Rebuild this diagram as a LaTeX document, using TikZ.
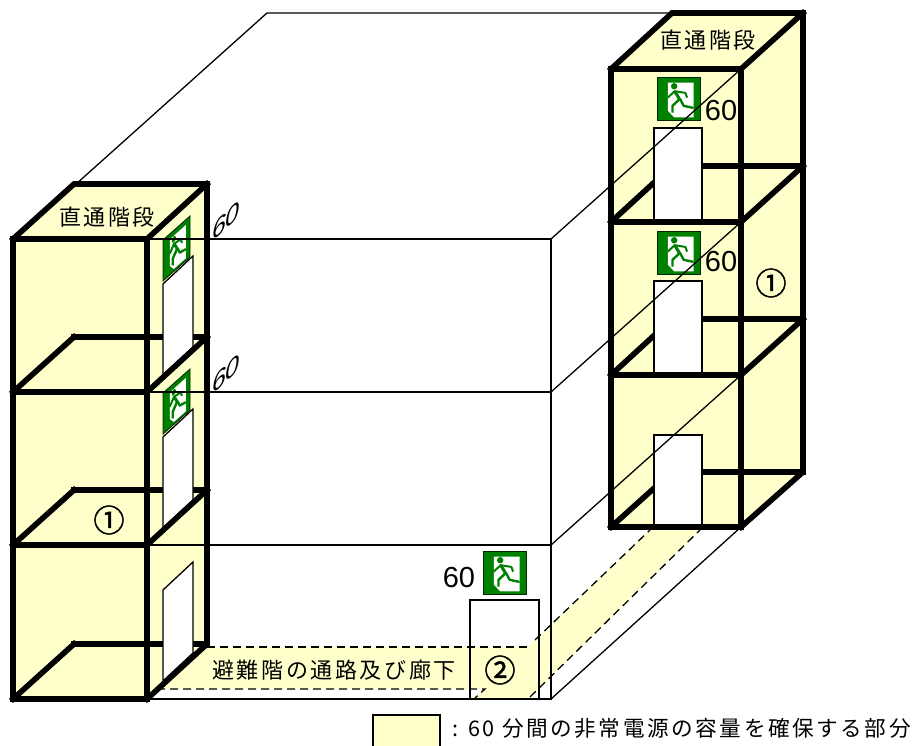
\documentclass[tikz,border=0pt]{standalone}
\usepackage{fontspec}
\newfontfamily\jpfont[LetterSpace=12]{Noto Sans CJK JP}
\newfontfamily\markfont[FakeBold=1.6]{Noto Sans CJK JP}
\newfontfamily\numfont{Liberation Sans}
\definecolor{zonefill}{HTML}{FFFFCC}
\definecolor{signgreen}{HTML}{008000}
\tikzset{
	thickline/.style={line width=5.6pt, line cap=rect, line join=miter},
	thinline/.style={line width=1.3pt},
	dashline/.style={line width=1.3pt, dash pattern=on 8pt off 5pt},
	doorbox/.style={draw, fill=white, line width=1.3pt},
	jplabel/.style={font=\fontsize{22}{25}\jpfont, inner sep=0pt},
	numlabel/.style={font=\fontsize{29}{30}\numfont, inner sep=0pt},
	slantlabel/.style={font=\fontsize{25}{28}\numfont\itshape, inner sep=0pt, cm={1,0.85,0,1,(0,0)}},
	marklabel/.style={font=\fontsize{31}{32}\markfont, inner sep=0pt},
	exitsign/.pic={
		\fill[signgreen, draw=black!70!signgreen, line width=0.8pt] (0,0) rectangle (1,1);
		\fill[white] (0.25,0.13) -- (0.85,0.13) -- (0.85,0.94) -- (0.40,0.94) -- (0.25,0.78) -- cycle;
		\fill[signgreen] (0.40,0.215) circle (0.075);
		\draw[signgreen, line width=2pt, line join=round] (0.25,0.48) -- (0.41,0.33) -- (0.66,0.37) -- (0.70,0.48);
		\draw[signgreen, line width=3pt] (0.41,0.33) -- (0.54,0.54);
		\draw[signgreen, line width=2.4pt, line join=round] (0.54,0.52) -- (0.62,0.67) -- (0.85,0.72);
		\draw[signgreen, line width=2.4pt, line join=round] (0.52,0.52) -- (0.36,0.67) -- (0.36,0.83);
	}
}
\begin{document}
\begin{tikzpicture}[x=1pt, y=-1pt]
	\useasboundingbox (0,0) rectangle (919,746);

	% corridor zone
	\fill[zonefill] (207,647) -- (528,647) -- (650,530) -- (700,530) -- (530,698) -- (475,698) -- (485,689) -- (157,689) -- cycle;
	\draw[dashline] (207,647) -- (528,647);
	\draw[dashline] (535,640) -- (650,530);
	\draw[dashline] (157,689) -- (485,689) -- (475,698);
	\draw[dashline] (530,697) -- (700,530);

	% stair on the left
	\fill[zonefill] (13,239) -- (74,184) -- (207,184) -- (207,644) -- (147,699) -- (13,699) -- cycle;
	\draw[thickline] (74,337) -- (207,337);
	\draw[thickline] (74,490) -- (207,490);
	\draw[thickline] (74,644) -- (207,644);
	\draw[doorbox] (163,284) -- (193,256) -- (193,347) -- (163,375) -- cycle;
	\draw[doorbox] (163,437) -- (193,409) -- (193,500) -- (163,528) -- cycle;
	\draw[doorbox] (163,590) -- (193,562) -- (193,653) -- (163,681) -- cycle;
	\pic[cm={27,24,0,41,(0,0)}] at (163,240) {exitsign};
	\pic[cm={27,24,0,41,(0,0)}] at (163,393) {exitsign};
	\draw[thickline] (13,239) rectangle (147,699);
	\draw[thickline] (13,392) -- (147,392);
	\draw[thickline] (13,545) -- (147,545);
	\draw[thickline] (13,239) -- (74,184) -- (207,184) -- (207,644) -- (147,699);
	\draw[thickline] (147,239) -- (207,184);
	\draw[thickline] (13,392) -- (74,337);
	\draw[thickline] (147,392) -- (207,337);
	\draw[thickline] (13,545) -- (74,490);
	\draw[thickline] (147,545) -- (207,490);
	\draw[thickline] (13,699) -- (74,644);

	% stair on the right
	\fill[zonefill] (611,69) -- (672,13) -- (803,13) -- (803,472) -- (741,527) -- (611,527) -- cycle;
	\draw[thickline] (672,166) -- (803,166);
	\draw[thickline] (672,319) -- (803,319);
	\draw[thickline] (672,472) -- (803,472);
	\draw[thickline] (611,222) -- (672,166);
	\draw[thickline] (611,375) -- (672,319);
	\draw[thickline] (611,527) -- (672,472);
	\draw[doorbox] (654,128) rectangle (702,222);
	\draw[doorbox] (654,281) rectangle (702,375);
	\draw[doorbox] (654,435) rectangle (702,527);
	\pic[scale=43] at (657,77) {exitsign};
	\pic[scale=43] at (657,231) {exitsign};
	\draw[thickline] (611,69) rectangle (741,527);
	\draw[thickline] (611,222) -- (741,222);
	\draw[thickline] (611,375) -- (741,375);
	\draw[thickline] (611,69) -- (672,13) -- (803,13) -- (803,472) -- (741,527);
	\draw[thickline] (741,69) -- (803,13);
	\draw[thickline] (741,222) -- (803,166);
	\draw[thickline] (741,375) -- (803,319);

	% building outline
	\draw[thinline] (75,185) -- (267,13) -- (672,13);
	\draw[thinline] (147,239) -- (551,239) -- (551,699) -- (147,699);
	\draw[thinline] (147,392) -- (551,392);
	\draw[thinline] (147,545) -- (551,545);
	\draw[thinline] (551,239) -- (741,69);
	\draw[thinline] (551,392) -- (741,222);
	\draw[thinline] (551,545) -- (741,375);
	\draw[thinline] (551,699) -- (741,527);

	% exit on the ground floor
	\draw[thinline] (470,699) -- (470,600) -- (539,600) -- (539,699);
	\pic[scale=43] at (483,551) {exitsign};

	% labels
	\node[jplabel] (stairleft) at (107,217) {直通階段};
	\node[jplabel] (stairright) at (708,40) {直通階段};
	\node[jplabel] (corridor) at (334,670) {避難階の通路及び廊下};
	\node[numlabel] (signtop) at (721,111) {60};
	\node[numlabel] (signmid) at (721,262) {60};
	\node[numlabel] (signground) at (459,578) {60};
	\node[slantlabel] (slanttop) at (226,221) {60};
	\node[slantlabel] (slantmid) at (226,374) {60};
	\node[marklabel] (markleft) at (109,520) {①};
	\node[marklabel] (markright) at (771,283) {①};
	\node[marklabel] (markground) at (500,670) {②};

	% legend
	\fill[zonefill] (373,715) rectangle (440,746);
	\draw[thinline] (373,746) -- (373,715) -- (440,715) -- (440,746);
	\node[jplabel, font=\fontsize{21.6}{25}\jpfont, anchor=west] (legendtext) at (452,728) {: 60 分間の非常電源の容量を確保する部分};
\end{tikzpicture}
\end{document}
